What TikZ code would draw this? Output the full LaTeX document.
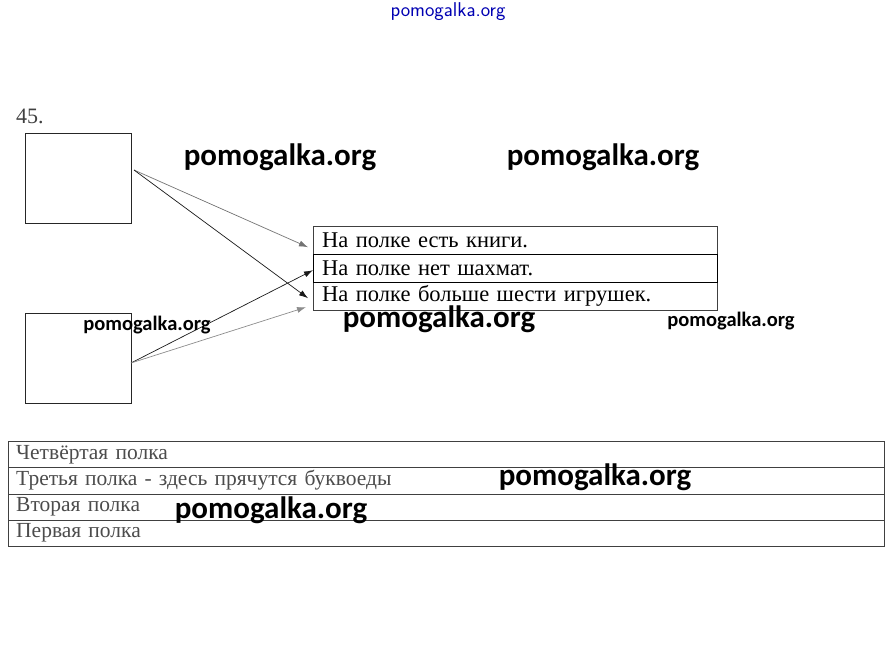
\documentclass[tikz,border=0pt]{standalone}
\usepackage{fontspec}
\setmainfont{Liberation Serif}
\newfontfamily\wmfont{Carlito}
\usetikzlibrary{calc,arrows.meta}
\tikzset{
  answer/.style={draw=black!75, anchor=north west, minimum height=28pt, text width=386pt, inner xsep=9pt, inner ysep=0pt, align=left, font=\fontsize{22.5}{22.5}\selectfont},
  shelf/.style={draw=black!75, anchor=north west, minimum height=26.25pt, text width=860pt, inner xsep=8pt, inner ysep=0pt, align=left, text=black!70, font=\fontsize{21.5}{21.5}\selectfont},
  blank/.style={draw=black!85, anchor=north west, minimum width=106pt, minimum height=90pt, inner sep=0pt},
  link/.style={-{Latex[length=9pt, width=6pt]}, line width=0.7pt},
  wm/.style={inner sep=0pt, font=\wmfont\bfseries\fontsize{31}{31}\selectfont},
  wmsmall/.style={inner sep=0pt, font=\wmfont\bfseries\fontsize{20.5}{20.5}\selectfont}
}
\begin{document}
\begin{tikzpicture}[x=1pt, y=-1pt]
			%%%%% START %%%%%
			\useasboundingbox (0, 0) rectangle (893, 648);
			
			\node[text=blue!70!black, font=\sffamily\fontsize{20}{20}\selectfont] (site) at (448, 12) {pomogalka.org};
			\node[text=black!75, font=\fontsize{22}{22}\selectfont] (num) at (30, 116) {45.};
			
			\node[blank] (box1) at (25, 133) {};
			\node[blank] (box2) at (25, 313) {};
			
			\node[answer] (r1) at (313, 226) {На полке есть книги.};
			\node[answer] (r2) at (313, 254) {На полке нет шахмат.};
			\node[answer] (r3) at (313, 282) {На полке больше шести игрушек.};
			\draw[line width=0.8pt] (r2.north west) rectangle (r2.south east);
			
			\coordinate (out1) at (134, 170);
			\coordinate (out2) at (131, 363);
			\draw[link, black!55] (out1) -- ($(r1.west)+(-5, 7)$);
			\draw[link, black!90] (out1) -- ($(r3.west)+(-5, 2)$);
			\draw[link, black!90] (out2) -- ($(r2.west)+(0, 2)$);
			\draw[link, black!45] (out2) -- ($(r3.west)+(-7, 11)$);
			
			\node[shelf] (s4) at (8, 441) {Четвёртая полка};
			\node[shelf] (s3) at (8, 467.25) {Третья полка - здесь прячутся буквоеды};
			\node[shelf] (s2) at (8, 493.5) {Вторая полка};
			\node[shelf] (s1) at (8, 519.75) {Первая полка};
			
			\node[wm] (wm1) at (280, 157) {pomogalka.org};
			\node[wm] (wm2) at (603, 157) {pomogalka.org};
			\node[wm] (wm3) at (439, 319) {pomogalka.org};
			\node[wm] (wm4) at (595, 477) {pomogalka.org};
			\node[wm] (wm5) at (271, 510) {pomogalka.org};
			\node[wmsmall] (wm6) at (147, 325) {pomogalka.org};
			\node[wmsmall] (wm7) at (731, 321) {pomogalka.org};
			
			%%%%% END %%%%%
\end{tikzpicture}
\end{document}
